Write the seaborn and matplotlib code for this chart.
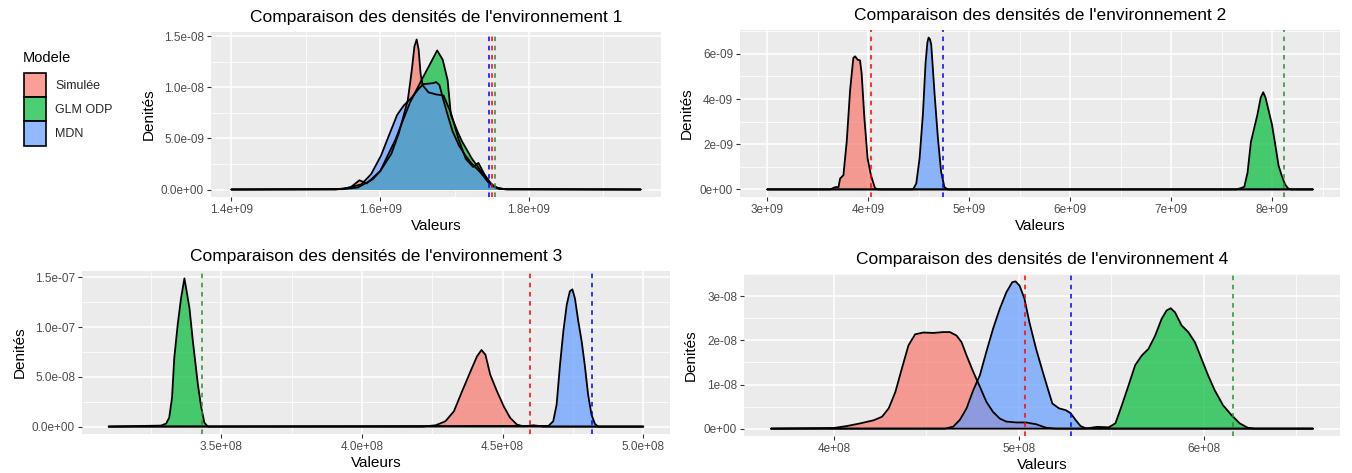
import numpy as np
import pandas as pd
import matplotlib
matplotlib.use("Agg")
import matplotlib.pyplot as plt
import matplotlib.colors as mcolors
from matplotlib.patches import Patch
import seaborn as sns

sns.set_theme(style="darkgrid")
plt.rcParams['font.family'] = ['Liberation Sans', 'DejaVu Sans']

# ---------------- data ----------------
MODELS = ["Simulée", "GLM ODP", "MDN"]
LEGEND_TITLE = "Modele"
TITLES = ["Comparaison des densités de l'environnement 1",
          "Comparaison des densités de l'environnement 2",
          "Comparaison des densités de l'environnement 3",
          "Comparaison des densités de l'environnement 4"]

# Environment 1 (x in 1e9, density in 1e-8)
e1_sim_x = [1.40, 1.54, 1.56, 1.572, 1.582, 1.60, 1.615, 1.625, 1.637, 1.640, 1.6425, 1.646, 1.649, 1.6516,
            1.6543, 1.657, 1.665, 1.675, 1.685, 1.695, 1.705, 1.715, 1.725, 1.732, 1.74, 1.75, 1.76, 1.95]
e1_sim_y = [0, 0, 0.02, 0.09, 0.06, 0.18, 0.35, 0.55, 0.87, 1.03, 1.17, 1.40, 1.467, 1.37,
            1.13, 1.02, 0.95, 0.93, 0.92, 0.75, 0.50, 0.30, 0.22, 0.26, 0.15, 0.04, 0.005, 0]
e1_glm_x = [1.40, 1.55, 1.57, 1.59, 1.60, 1.62, 1.64, 1.6556, 1.6665, 1.6766, 1.684, 1.6906, 1.695, 1.7037,
            1.71, 1.7234, 1.7365, 1.75, 1.758, 1.77, 1.95]
e1_glm_y = [0, 0.003, 0.02, 0.10, 0.18, 0.48, 0.85, 1.07, 1.22, 1.36, 1.27, 1.07, 0.73, 0.57,
            0.47, 0.30, 0.17, 0.05, 0.013, 0, 0]
e1_mdn_x = [1.40, 1.55, 1.5746, 1.5877, 1.601, 1.6118, 1.6228, 1.6315, 1.6425, 1.6512, 1.6578, 1.6709, 1.6753,
            1.6797, 1.684, 1.6906, 1.6972, 1.7059, 1.7147, 1.7234, 1.7344, 1.7453, 1.754, 1.767, 1.95]
e1_mdn_y = [0, 0.005, 0.05, 0.15, 0.33, 0.53, 0.73, 0.82, 0.90, 0.98, 1.03, 1.04, 1.05,
            1.02, 0.90, 0.73, 0.57, 0.43, 0.33, 0.25, 0.17, 0.07, 0.023, 0.003, 0]
e1_vlines = [1.7505, 1.7547, 1.7464]

# Environment 2 (x in 1e9, density in 1e-9)
e2_sim_x = [3.0, 3.623, 3.672, 3.705, 3.721, 3.754, 3.787, 3.82, 3.852, 3.869, 3.895, 3.918, 3.934, 3.961,
            3.993, 4.026, 4.066, 4.098, 8.4]
e2_sim_y = [0, 0, 0.10, 0.10, 0.48, 0.63, 2.14, 4.39, 5.82, 5.89, 5.74, 5.71, 5.14, 3.19,
            1.38, 0.63, 0.06, 0, 0]
e2_glm_x = [3.0, 7.643, 7.692, 7.723, 7.755, 7.788, 7.82, 7.852, 7.885, 7.91, 7.933, 7.965, 7.997, 8.03,
            8.062, 8.094, 8.126, 8.159, 8.19, 8.4]
e2_glm_y = [0, 0, 0.06, 0.12, 0.75, 2.10, 2.70, 3.30, 4.06, 4.30, 4.06, 3.46, 2.86, 1.96,
            1.05, 0.60, 0.22, 0.03, 0, 0]
e2_mdn_x = [3.0, 4.443, 4.475, 4.508, 4.541, 4.567, 4.585, 4.597, 4.61, 4.623, 4.656, 4.689, 4.721, 4.754,
            4.787, 8.4]
e2_mdn_y = [0, 0, 0.26, 1.38, 3.34, 5.59, 6.50, 6.72, 6.65, 6.42, 4.24, 2.29, 0.78, 0.10,
            0, 0]
e2_vlines = [4.023, 8.12, 4.738]

# Environment 3 (x in 1e8, density in 1e-7)
e3_sim_x = [3.1, 4.2146, 4.262, 4.297, 4.327, 4.356, 4.386, 4.409, 4.425, 4.439, 4.456, 4.480, 4.504, 4.527,
            4.551, 4.574, 4.61, 4.646, 5.0]
e3_sim_y = [0, 0, 0.013, 0.054, 0.154, 0.355, 0.556, 0.706, 0.77, 0.723, 0.522, 0.355, 0.204, 0.087,
            0.02, 0.003, 0.013, 0, 0]
e3_glm_x = [3.1, 3.286, 3.304, 3.315, 3.325, 3.333, 3.345, 3.357, 3.369, 3.377, 3.387, 3.399, 3.417, 3.429,
            3.440, 3.452, 5.0]
e3_glm_y = [0, 0.01, 0.03, 0.09, 0.29, 0.69, 1.02, 1.29, 1.49, 1.36, 1.19, 0.86, 0.42, 0.19,
            0.04, 0, 0]
e3_mdn_x = [3.1, 4.663, 4.68, 4.692, 4.704, 4.716, 4.728, 4.739, 4.748, 4.757, 4.769, 4.781, 4.792, 4.804,
            4.816, 4.828, 4.840, 5.0]
e3_mdn_y = [0, 0.007, 0.054, 0.22, 0.62, 0.96, 1.225, 1.36, 1.38, 1.29, 1.06, 0.857, 0.62, 0.32,
            0.12, 0.027, 0, 0]
e3_vlines = [4.598, 3.432, 4.817]

# Environment 4 (x in 1e8, density in 1e-8)
e4_sim_x = [3.66, 4.0, 4.072, 4.143, 4.215, 4.26, 4.296, 4.332, 4.367, 4.403, 4.439, 4.484, 4.538, 4.591,
            4.627, 4.663, 4.69, 4.717, 4.753, 4.789, 4.824, 4.86, 4.896, 4.932, 4.986, 5.039, 5.093, 5.147,
            5.2, 6.59]
e4_sim_y = [0, 0.015, 0.06, 0.12, 0.19, 0.27, 0.46, 0.83, 1.36, 1.89, 2.14, 2.18, 2.17, 2.19,
            2.19, 2.11, 1.96, 1.66, 1.29, 0.95, 0.61, 0.38, 0.23, 0.16, 0.14, 0.14, 0.10, 0.02,
            0, 0]
e4_glm_x = [3.66, 5.36, 5.423, 5.486, 5.522, 5.557, 5.593, 5.629, 5.665, 5.701, 5.737, 5.772, 5.799, 5.821,
            5.844, 5.88, 5.916, 5.952, 5.987, 6.023, 6.059, 6.104, 6.149, 6.194, 6.238, 6.274, 6.59]
e4_glm_y = [0, 0, 0.04, 0.03, 0.12, 0.53, 0.98, 1.44, 1.66, 1.81, 2.11, 2.49, 2.68, 2.73,
            2.64, 2.34, 2.19, 1.96, 1.59, 1.21, 0.87, 0.53, 0.31, 0.12, 0.02, 0, 0]
e4_mdn_x = [3.66, 4.6, 4.645, 4.681, 4.717, 4.753, 4.789, 4.824, 4.86, 4.896, 4.932, 4.964, 4.982, 5.004,
            5.03, 5.057, 5.093, 5.129, 5.156, 5.181, 5.217, 5.253, 5.28, 5.306, 5.333, 5.36, 5.396, 6.59]
e4_mdn_y = [0, 0, 0.045, 0.2, 0.46, 0.87, 1.21, 1.74, 2.26, 2.71, 3.09, 3.32, 3.34, 3.24,
            2.95, 2.41, 1.81, 1.29, 0.91, 0.57, 0.46, 0.42, 0.35, 0.20, 0.06, 0.01, 0, 0]
e4_vlines = [5.034, 6.16, 5.283]

# axis ticks and labels
e1_xticks = [1.4, 1.6, 1.8]
e1_xlabels = ["1.4e+09", "1.6e+09", "1.8e+09"]
e1_yticks = [0.0, 0.5, 1.0, 1.5]
e1_ylabels = ["0.0e+00", "5.0e-09", "1.0e-08", "1.5e-08"]
e2_xticks = [3, 4, 5, 6, 7, 8]
e2_xlabels = ["3e+09", "4e+09", "5e+09", "6e+09", "7e+09", "8e+09"]
e2_yticks = [0, 2, 4, 6]
e2_ylabels = ["0e+00", "2e-09", "4e-09", "6e-09"]
e3_xticks = [3.5, 4.0, 4.5, 5.0]
e3_xlabels = ["3.5e+08", "4.0e+08", "4.5e+08", "5.0e+08"]
e3_yticks = [0.0, 0.5, 1.0, 1.5]
e3_ylabels = ["0.0e+00", "5.0e-08", "1.0e-07", "1.5e-07"]
e4_xticks = [4, 5, 6]
e4_xlabels = ["4e+08", "5e+08", "6e+08"]
e4_yticks = [0, 1, 2, 3]
e4_ylabels = ["0e+00", "1e-08", "2e-08", "3e-08"]

X_SCALES = [1e9, 1e9, 1e8, 1e8]
Y_SCALES = [1e-8, 1e-9, 1e-7, 1e-8]

# ---------------- styles ----------------
FILL = {"Simulée": "#F8766D", "GLM ODP": "#00BA38", "MDN": "#619CFF"}
VCOL = {"Simulée": "#FF0000", "GLM ODP": "#2E8B2E", "MDN": "#0000FF"}
ALPHA = 0.7
W, H = 1352, 473
# panel boxes in pixels: left, right, top, bottom
BOXES = [(211, 661, 32, 197), (740, 1340, 30, 197), (82, 670, 271, 434), (744, 1340, 274, 436)]

panels = [
    dict(curves=[(e1_sim_x, e1_sim_y), (e1_glm_x, e1_glm_y), (e1_mdn_x, e1_mdn_y)], vl=e1_vlines,
         xt=e1_xticks, xl=e1_xlabels, yt=e1_yticks, yl=e1_ylabels),
    dict(curves=[(e2_sim_x, e2_sim_y), (e2_glm_x, e2_glm_y), (e2_mdn_x, e2_mdn_y)], vl=e2_vlines,
         xt=e2_xticks, xl=e2_xlabels, yt=e2_yticks, yl=e2_ylabels),
    dict(curves=[(e3_sim_x, e3_sim_y), (e3_glm_x, e3_glm_y), (e3_mdn_x, e3_mdn_y)], vl=e3_vlines,
         xt=e3_xticks, xl=e3_xlabels, yt=e3_yticks, yl=e3_ylabels),
    dict(curves=[(e4_sim_x, e4_sim_y), (e4_glm_x, e4_glm_y), (e4_mdn_x, e4_mdn_y)], vl=e4_vlines,
         xt=e4_xticks, xl=e4_xlabels, yt=e4_yticks, yl=e4_ylabels),
]

fig = plt.figure(figsize=(W / 100, H / 100), dpi=100)
fig.patch.set_facecolor("white")

for i, p in enumerate(panels):
    l, r, t, b = BOXES[i]
    ax = fig.add_axes([l / W, 1 - b / H, (r - l) / W, (b - t) / H])
    xs, ys = X_SCALES[i], Y_SCALES[i]
    ax.set_facecolor("#EBEBEB")
    for s in ax.spines.values():
        s.set_visible(False)

    allx = np.concatenate([np.asarray(c[0]) for c in p["curves"]]) * xs
    ally = np.concatenate([np.asarray(c[1]) for c in p["curves"]]) * ys
    xmin, xmax = allx.min(), allx.max()
    ymax = ally.max()
    dx = (xmax - xmin) * 0.05

    for m, (cx, cy) in zip(MODELS, p["curves"]):
        df = pd.DataFrame({"x": np.asarray(cx) * xs, "y": np.asarray(cy) * ys})
        ax.fill_between(df["x"], df["y"], 0, color=FILL[m], alpha=ALPHA, lw=0, zorder=2)
        sns.lineplot(data=df, x="x", y="y", color="black", lw=1.3, ax=ax, sort=False,
                     estimator=None, legend=False, zorder=3)

    for m, v in zip(MODELS, p["vl"]):
        ax.axvline(v * xs, color=VCOL[m], ls=(0, (3, 3)), lw=1.1, zorder=4)

    xt = np.asarray(p["xt"]) * xs
    yt = np.asarray(p["yt"]) * ys
    ax.set_xticks(xt)
    ax.set_xticklabels(p["xl"])
    ax.set_yticks(yt)
    ax.set_yticklabels(p["yl"])
    # minor gridlines midway between majors (ggplot style)
    xstep = xt[1] - xt[0]
    ystep = yt[1] - yt[0]
    xminor = np.arange(xt[0] - xstep * 1.5, xt[-1] + xstep * 2, xstep)
    yminor = np.arange(yt[0] - ystep * 1.5, yt[-1] + ystep * 2, ystep)
    ax.set_xticks(xminor, minor=True)
    ax.set_yticks(yminor, minor=True)
    ax.set_xlim(xmin - dx, xmax + dx)
    ax.set_ylim(-ymax * 0.05, ymax * 1.05)
    ax.set_axisbelow(True)
    ax.grid(which="major", color="white", lw=1.1)
    ax.grid(which="minor", color="white", lw=0.55)
    ax.tick_params(which="major", length=3, width=0.8, color="#333333", labelcolor="#4D4D4D",
                   labelsize=8.5, pad=2, bottom=True, left=True)
    ax.tick_params(which="minor", length=0)
    ax.set_title(TITLES[i], fontsize=12.5, pad=7, color="black")
    ax.set_xlabel("Valeurs", fontsize=11, labelpad=2, color="black")
    ax.set_ylabel("Denités", fontsize=11, labelpad=4, color="black")

fig.text(23 / W, 1 - 58 / H, LEGEND_TITLE, fontsize=10.5, va="center", ha="left", color="black")
handles = [Patch(facecolor=mcolors.to_rgba(FILL[m], ALPHA), edgecolor="black", lw=1.2) for m in MODELS]
leg = fig.legend(handles=handles, labels=MODELS, loc="upper left",
                 bbox_to_anchor=(24 / W, 1 - 73 / H), frameon=False, fontsize=9,
                 handlelength=1.75, handleheight=2.6, labelspacing=0.0, borderpad=0,
                 borderaxespad=0, handletextpad=0.75)

fig.savefig("out.png", dpi=100)
